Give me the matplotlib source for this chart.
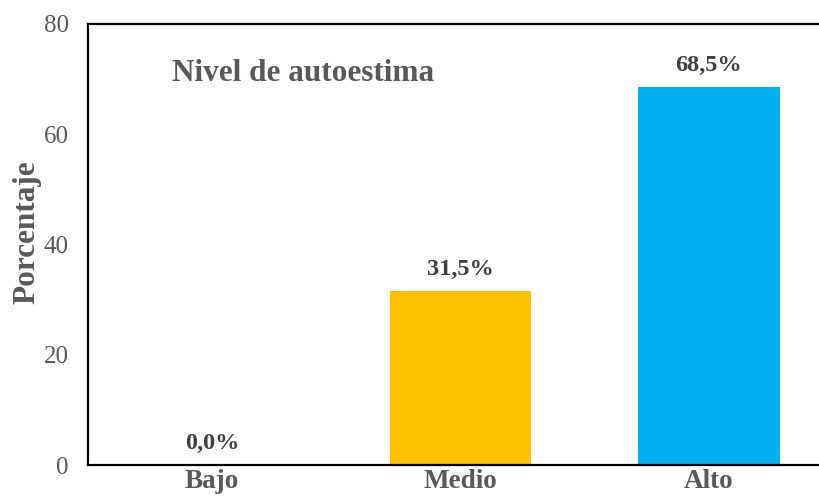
import matplotlib
matplotlib.use("Agg")
from matplotlib import pyplot as plt

categorias = ["Bajo", "Medio", "Alto"]
porcentajes = [0.0, 31.5, 68.5]
etiquetas = ["0,0%", "31,5%", "68,5%"]
colores = ["#FFC000", "#FFC000", "#00B0F0"]

plt.rcParams["font.family"] = ["Liberation Serif", "DejaVu Serif"]
gris = "#595959"

fig = plt.figure(figsize=(8.19, 4.98), dpi=100)
ax = fig.add_axes([88/819, 1-465/498, (833-88)/819, (465-24)/498])

x = list(range(len(categorias)))
ax.bar(x, porcentajes, width=0.57, color=colores)
for xi, v, t in zip(x, porcentajes, etiquetas):
    ax.text(xi, v + 2.9, t, ha="center", va="baseline", fontsize=17.5,
            fontweight="bold", color="#404040")

ax.set_xlim(-0.5, 2.5)
ax.set_ylim(0, 80)
ax.set_yticks([0, 20, 40, 60, 80])
ax.set_xticks(x)
ax.set_xticklabels(categorias, fontsize=19.5, fontweight="bold", color=gris)
ax.tick_params(axis="y", labelsize=18, labelcolor=gris, length=0, pad=14)
ax.tick_params(axis="x", length=0, pad=3)
ax.set_ylabel("Porcentaje", fontsize=22.5, fontweight="bold", color=gris)
ax.yaxis.set_label_coords(-0.062, 0.528)

for s in ["left", "bottom", "top"]:
    ax.spines[s].set_linewidth(1.6)
    ax.spines[s].set_color("black")
ax.spines["right"].set_visible(False)

ax.text(0.113, 0.888, "Nivel de autoestima", transform=ax.transAxes,
        fontsize=22.5, fontweight="bold", color=gris, ha="left", va="center")

plt.savefig("out.png", dpi=100)
